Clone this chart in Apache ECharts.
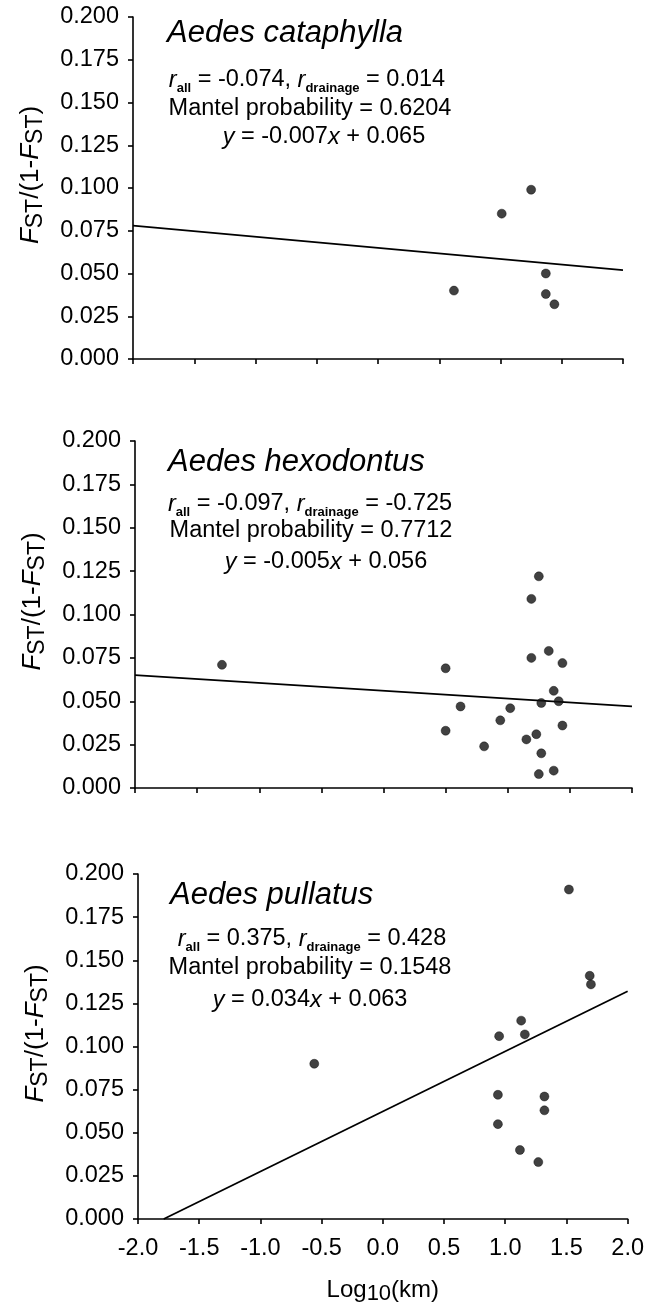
<!DOCTYPE html>
<html><head><meta charset="utf-8">
<script src="https://cdn.jsdelivr.net/npm/echarts@6/dist/echarts.min.js"></script>
<style>html,body{margin:0;padding:0;background:#fff}#c{width:647px;height:1310px}</style>
</head><body><div id="c"></div>
<script>
const FONT = "'Liberation Sans', Arial, Helvetica, sans-serif";

// ---- data ----
const xTickLabels = ['-2.0', '-1.5', '-1.0', '-0.5', '0.0', '0.5', '1.0', '1.5', '2.0'];
const yTickLabels = ['0.000', '0.025', '0.050', '0.075', '0.100', '0.125', '0.150', '0.175', '0.200'];

const catX = [1.25, 1.01, 1.37, 0.62, 1.37, 1.44];
const catY = [0.099, 0.085, 0.050, 0.040, 0.038, 0.032];
const catLine = [[-2.0, 0.078], [2.0, 0.052]];

const hexX = [-1.30, 1.25, 1.19, 1.33, 1.19, 1.44, 0.50, 1.37, 1.27, 1.41, 0.62, 1.02, 0.94, 0.50, 1.44, 1.15, 1.23, 0.81, 1.27, 1.37, 1.25];
const hexY = [0.071, 0.122, 0.109, 0.079, 0.075, 0.072, 0.069, 0.056, 0.049, 0.050, 0.047, 0.046, 0.039, 0.033, 0.036, 0.028, 0.031, 0.024, 0.020, 0.010, 0.008];
const hexLine = [[-2.0, 0.065], [2.0, 0.047]];

const pulX = [-0.56, 1.52, 1.69, 1.70, 1.13, 0.95, 1.16, 0.94, 1.32, 1.32, 0.94, 1.12, 1.27];
const pulY = [0.090, 0.191, 0.141, 0.136, 0.115, 0.106, 0.107, 0.072, 0.071, 0.063, 0.055, 0.040, 0.033];
const pulLine = [[-1.79, 0.0], [2.0, 0.132]];

const species = ['Aedes cataphylla', 'Aedes hexodontus', 'Aedes pullatus'];
const rAll = ['-0.074', '-0.097', '0.375'];
const rDrainage = ['0.014', '-0.725', '0.428'];
const mantelP = ['0.6204', '0.7712', '0.1548'];
const slopes = ['-0.007', '-0.005', '0.034'];
const intercepts = ['0.065', '0.056', '0.063'];

// ---- layout ----
const grids = [
  {left: 133, right: 24, top: 17, height: 342},
  {left: 135, right: 15, top: 441, height: 347},
  {left: 138, right: 18, top: 874, height: 345}
];
const textPos = [
  {tx: 167, ty: 33, l1: [307, 80], l2: [310, 109], l3: [324, 137]},
  {tx: 168, ty: 462, l1: [310, 504], l2: [311, 531], l3: [326, 562]},
  {tx: 170, ty: 895, l1: [312, 939], l2: [310, 968], l3: [310, 1000]}
];

const zip = (a, b) => a.map((v, i) => [v, b[i]]);
const pts = [zip(catX, catY), zip(hexX, hexY), zip(pulX, pulY)];
const lines = [catLine, hexLine, pulLine];

const axisLine = {show: true, onZero: false, lineStyle: {color: '#000', width: 1.6}};
const axisTick = {show: true, inside: false, length: 5, lineStyle: {color: '#000', width: 1.6}};

const xAxes = grids.map((g, i) => ({
  type: 'value', gridIndex: i, min: -2, max: 2, interval: 0.5,
  axisLine, axisTick, splitLine: {show: false},
  axisLabel: {show: i === 2, margin: 18, color: '#000', fontSize: 23.5, fontFamily: FONT,
    formatter: v => xTickLabels[Math.round((v + 2) / 0.5)]},
  name: i === 2 ? '{n|Log}{s|10}{n|(km)}' : '',
  nameLocation: 'middle', nameGap: 56,
  nameTextStyle: {color: '#000', fontFamily: FONT, fontSize: 24, rich: {
    n: {fontSize: 24, fontFamily: FONT, color: '#000', lineHeight: 30},
    s: {fontSize: 22, fontFamily: FONT, color: '#000', lineHeight: 22, verticalAlign: 'bottom'}
  }}
}));

const yAxes = grids.map((g, i) => ({
  type: 'value', gridIndex: i, min: 0, max: 0.2, interval: 0.025,
  axisLine, axisTick, splitLine: {show: false},
  axisLabel: {margin: 14, color: '#000', fontSize: 23.5, fontFamily: FONT,
    formatter: v => yTickLabels[Math.round(v / 0.025)]},
  name: '{i|F}{s|ST}{n|/(1-}{i|F}{s|ST}{n|)}',
  nameLocation: 'middle', nameRotate: 90, nameGap: 86,
  nameTextStyle: {color: '#000', fontFamily: FONT, fontSize: 26, padding: [0, 0, 0, 26], rich: {
    n: {fontSize: 26, fontFamily: FONT, color: '#000', lineHeight: 32},
    i: {fontSize: 26, fontFamily: FONT, fontStyle: 'italic', color: '#000', lineHeight: 32},
    s: {fontSize: 23, fontFamily: FONT, color: '#000', lineHeight: 23, verticalAlign: 'bottom'}
  }}
}));

const series = [];
pts.forEach((d, i) => {
  series.push({type: 'line', xAxisIndex: i, yAxisIndex: i, data: lines[i], symbol: 'none',
    lineStyle: {color: '#000', width: 1.8}, silent: true, z: 2});
  series.push({type: 'scatter', xAxisIndex: i, yAxisIndex: i, data: d, symbol: 'circle', symbolSize: 9,
    itemStyle: {color: '#111', borderColor: '#000', borderWidth: 0.5}, silent: true, z: 3});
});

const annoRich = {
  n: {fontSize: 23.5, fontFamily: FONT, fill: '#000', lineHeight: 30},
  ri: {fontSize: 23.5, fontFamily: FONT, fontStyle: 'italic', fill: '#000', lineHeight: 30},
  sub: {fontSize: 13, fontFamily: FONT, fontWeight: 'bold', fill: '#000', lineHeight: 13, verticalAlign: 'bottom'}
};

const graphics = [];
textPos.forEach((p, i) => {
  graphics.push({type: 'text', x: p.tx, y: p.ty, style: {
    text: species[i], fill: '#000', fontSize: 31, fontStyle: 'italic', fontFamily: FONT,
    align: 'left', verticalAlign: 'middle'}});
  graphics.push({type: 'text', x: p.l1[0], y: p.l1[1], style: {
    text: '{ri|r}{sub|all}{n| = ' + rAll[i] + ', }{ri|r}{sub|drainage}{n| = ' + rDrainage[i] + '}',
    rich: annoRich, align: 'center', verticalAlign: 'middle', fontSize: 23.5, fontFamily: FONT}});
  graphics.push({type: 'text', x: p.l2[0], y: p.l2[1], style: {
    text: 'Mantel probability = ' + mantelP[i], fill: '#000', fontSize: 23.5, fontFamily: FONT,
    align: 'center', verticalAlign: 'middle'}});
  graphics.push({type: 'text', x: p.l3[0], y: p.l3[1], style: {
    text: '{ri|y}{n| = ' + slopes[i] + '}{ri|x}{n| + ' + intercepts[i] + '}',
    rich: annoRich, align: 'center', verticalAlign: 'middle', fontSize: 23.5, fontFamily: FONT}});
});

const chart = echarts.init(document.getElementById('c'), null, {renderer: 'canvas'});
chart.setOption({
  animation: false,
  backgroundColor: '#fff',
  grid: grids.map(g => Object.assign({containLabel: false}, g)),
  xAxis: xAxes,
  yAxis: yAxes,
  series,
  graphic: graphics
});
</script>
</body></html>
